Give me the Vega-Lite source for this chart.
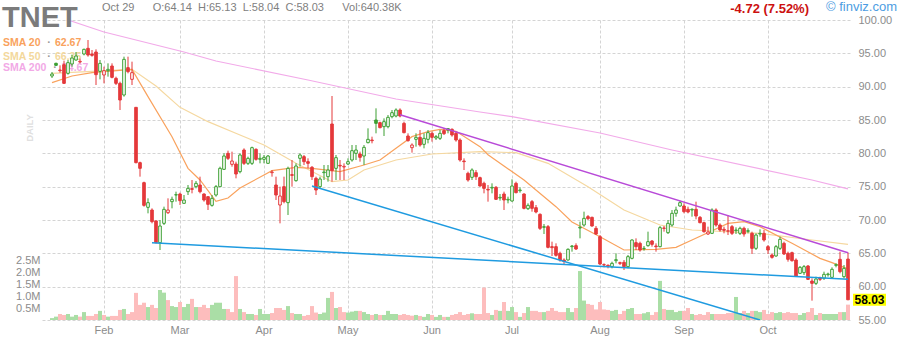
{
"$schema": "https://vega.github.io/schema/vega-lite/v6.json",
"width": 808, "height": 300,
"autosize": {"type": "none"},
"padding": {"left": 42, "top": 20, "right": 50, "bottom": 20},
"background": "white",
"config": {"view": {"stroke": null}, "axis": {"labelFont": "Liberation Sans", "labelColor": "#8c8c8c", "labelFontSize": 11, "gridColor": "#d4d4d4", "gridDash": [3, 2], "gridWidth": 1, "domain": false, "ticks": false, "labelOverlap": false, "labelFlush": false}, "axisRight": {"labelOverlap": false, "labelBound": false, "tickCount": 10, "format": ".2f", "labelPadding": 8, "grid": true}, "text": {"font": "Liberation Sans"}},
"datasets": {
"p": [
{"d":"2025-01-14","o":91.6,"h":92.2,"l":91.3,"c":91.9,"v":80000},
{"d":"2025-01-15","o":93.5,"h":93.6,"l":93.1,"c":93.2,"v":140000},
{"d":"2025-01-16","o":92.5,"h":93.2,"l":92.1,"c":92.4,"v":250000},
{"d":"2025-01-17","o":93.3,"h":93.9,"l":90.4,"c":90.5,"v":210000},
{"d":"2025-01-21","o":92.0,"h":94.0,"l":91.8,"c":93.6,"v":250000},
{"d":"2025-01-22","o":93.4,"h":94.8,"l":93.0,"c":94.3,"v":140000},
{"d":"2025-01-23","o":94.0,"h":95.2,"l":93.9,"c":94.6,"v":210000},
{"d":"2025-01-24","o":93.7,"h":94.2,"l":93.5,"c":93.8,"v":140000},
{"d":"2025-01-27","o":94.9,"h":95.7,"l":94.7,"c":95.6,"v":330000},
{"d":"2025-01-28","o":95.75,"h":97.0,"l":94.5,"c":94.75,"v":170000},
{"d":"2025-01-29","o":94.9,"h":95.5,"l":94.5,"c":94.7,"v":170000},
{"d":"2025-01-30","o":95.2,"h":95.6,"l":90.25,"c":91.8,"v":250000},
{"d":"2025-01-31","o":92.3,"h":94.0,"l":91.1,"c":93.5,"v":380000},
{"d":"2025-02-03","o":91.75,"h":93.0,"l":90.5,"c":92.4,"v":210000},
{"d":"2025-02-04","o":92.4,"h":93.5,"l":91.5,"c":92.6,"v":140000},
{"d":"2025-02-05","o":93.1,"h":93.5,"l":91.25,"c":91.4,"v":170000},
{"d":"2025-02-06","o":91.25,"h":91.5,"l":90.25,"c":90.5,"v":170000},
{"d":"2025-02-07","o":90.5,"h":90.75,"l":86.5,"c":88.0,"v":420000},
{"d":"2025-02-10","o":88.75,"h":94.5,"l":88.5,"c":94.1,"v":460000},
{"d":"2025-02-11","o":92.85,"h":94.5,"l":92.0,"c":92.25,"v":250000},
{"d":"2025-02-12","o":91.1,"h":93.75,"l":90.25,"c":92.1,"v":330000},
{"d":"2025-02-13","o":86.9,"h":86.9,"l":78.5,"c":78.6,"v":1130000},
{"d":"2025-02-14","o":78.6,"h":78.75,"l":76.5,"c":77.75,"v":630000},
{"d":"2025-02-18","o":75.6,"h":75.75,"l":72.0,"c":72.2,"v":720000},
{"d":"2025-02-19","o":71.9,"h":73.25,"l":71.0,"c":72.6,"v":540000},
{"d":"2025-02-20","o":71.5,"h":71.75,"l":69.5,"c":69.75,"v":630000},
{"d":"2025-02-21","o":69.85,"h":70.0,"l":66.5,"c":66.6,"v":500000},
{"d":"2025-02-24","o":66.6,"h":70.0,"l":65.5,"c":69.1,"v":1250000},
{"d":"2025-02-25","o":69.5,"h":72.0,"l":69.25,"c":71.6,"v":1140000},
{"d":"2025-02-26","o":71.1,"h":73.25,"l":70.9,"c":71.5,"v":830000},
{"d":"2025-02-27","o":72.75,"h":73.5,"l":71.75,"c":73.1,"v":580000},
{"d":"2025-02-28","o":73.75,"h":74.25,"l":72.75,"c":73.8,"v":540000},
{"d":"2025-03-03","o":73.9,"h":74.1,"l":72.25,"c":72.9,"v":750000},
{"d":"2025-03-04","o":72.5,"h":73.75,"l":72.5,"c":73.0,"v":540000},
{"d":"2025-03-05","o":74.25,"h":75.25,"l":73.75,"c":74.75,"v":670000},
{"d":"2025-03-06","o":74.7,"h":76.0,"l":74.0,"c":74.6,"v":880000},
{"d":"2025-03-07","o":75.0,"h":75.85,"l":74.75,"c":75.5,"v":540000},
{"d":"2025-03-10","o":75.25,"h":76.5,"l":74.0,"c":74.25,"v":540000},
{"d":"2025-03-11","o":73.9,"h":74.0,"l":72.75,"c":73.0,"v":630000},
{"d":"2025-03-12","o":73.5,"h":73.5,"l":71.5,"c":72.35,"v":500000},
{"d":"2025-03-13","o":72.2,"h":73.75,"l":72.0,"c":73.25,"v":630000},
{"d":"2025-03-14","o":73.75,"h":75.25,"l":73.5,"c":75.0,"v":720000},
{"d":"2025-03-17","o":75.0,"h":78.0,"l":75.0,"c":77.75,"v":720000},
{"d":"2025-03-18","o":77.6,"h":80.0,"l":77.5,"c":79.6,"v":460000},
{"d":"2025-03-19","o":80.0,"h":80.4,"l":79.0,"c":79.25,"v":460000},
{"d":"2025-03-20","o":78.35,"h":80.25,"l":78.0,"c":78.85,"v":330000},
{"d":"2025-03-21","o":78.4,"h":78.75,"l":76.25,"c":76.9,"v":1830000},
{"d":"2025-03-24","o":77.25,"h":80.0,"l":77.0,"c":79.75,"v":460000},
{"d":"2025-03-25","o":80.5,"h":80.75,"l":78.25,"c":78.5,"v":330000},
{"d":"2025-03-26","o":78.5,"h":79.5,"l":78.25,"c":79.25,"v":250000},
{"d":"2025-03-27","o":78.5,"h":81.0,"l":78.25,"c":80.85,"v":250000},
{"d":"2025-03-28","o":80.6,"h":80.75,"l":78.9,"c":79.1,"v":210000},
{"d":"2025-03-31","o":79.1,"h":80.0,"l":78.5,"c":79.25,"v":460000},
{"d":"2025-04-01","o":79.1,"h":79.75,"l":78.5,"c":79.4,"v":250000},
{"d":"2025-04-02","o":78.5,"h":79.75,"l":78.5,"c":79.6,"v":250000},
{"d":"2025-04-03","o":77.1,"h":77.5,"l":76.5,"c":77.2,"v":290000},
{"d":"2025-04-04","o":75.25,"h":76.5,"l":73.0,"c":73.75,"v":500000},
{"d":"2025-04-07","o":72.25,"h":75.0,"l":69.5,"c":73.6,"v":500000},
{"d":"2025-04-08","o":75.0,"h":76.5,"l":72.5,"c":72.75,"v":420000},
{"d":"2025-04-09","o":72.6,"h":78.0,"l":70.75,"c":77.75,"v":580000},
{"d":"2025-04-10","o":76.8,"h":79.0,"l":75.0,"c":76.7,"v":290000},
{"d":"2025-04-11","o":75.9,"h":78.5,"l":75.75,"c":78.1,"v":250000},
{"d":"2025-04-14","o":79.25,"h":80.0,"l":78.0,"c":79.75,"v":250000},
{"d":"2025-04-15","o":79.5,"h":79.75,"l":78.25,"c":78.75,"v":170000},
{"d":"2025-04-16","o":78.75,"h":79.25,"l":77.75,"c":78.5,"v":210000},
{"d":"2025-04-17","o":77.9,"h":78.1,"l":76.0,"c":76.5,"v":580000},
{"d":"2025-04-21","o":76.25,"h":76.5,"l":73.75,"c":74.5,"v":310000},
{"d":"2025-04-22","o":75.0,"h":76.5,"l":74.75,"c":76.15,"v":250000},
{"d":"2025-04-23","o":77.1,"h":78.25,"l":76.0,"c":77.2,"v":310000},
{"d":"2025-04-24","o":76.5,"h":78.25,"l":75.75,"c":77.5,"v":920000},
{"d":"2025-04-25","o":84.4,"h":88.6,"l":75.75,"c":77.4,"v":1170000},
{"d":"2025-04-28","o":77.75,"h":79.75,"l":76.0,"c":79.35,"v":500000},
{"d":"2025-04-29","o":78.2,"h":79.0,"l":76.0,"c":78.1,"v":540000},
{"d":"2025-04-30","o":77.95,"h":78.5,"l":76.0,"c":78.05,"v":330000},
{"d":"2025-05-01","o":78.4,"h":79.25,"l":78.25,"c":78.75,"v":310000},
{"d":"2025-05-02","o":79.0,"h":81.25,"l":78.75,"c":80.4,"v":350000},
{"d":"2025-05-05","o":80.0,"h":81.25,"l":79.0,"c":80.5,"v":380000},
{"d":"2025-05-06","o":79.9,"h":80.25,"l":78.75,"c":79.4,"v":380000},
{"d":"2025-05-07","o":79.6,"h":81.25,"l":78.25,"c":80.9,"v":330000},
{"d":"2025-05-08","o":81.6,"h":83.75,"l":81.5,"c":82.1,"v":250000},
{"d":"2025-05-09","o":82.0,"h":82.5,"l":81.5,"c":81.9,"v":210000},
{"d":"2025-05-12","o":85.0,"h":86.75,"l":83.0,"c":84.5,"v":250000},
{"d":"2025-05-13","o":84.6,"h":84.75,"l":83.75,"c":83.85,"v":210000},
{"d":"2025-05-14","o":84.0,"h":85.25,"l":82.6,"c":84.75,"v":210000},
{"d":"2025-05-15","o":84.0,"h":85.75,"l":83.75,"c":85.4,"v":380000},
{"d":"2025-05-16","o":85.5,"h":86.5,"l":85.25,"c":86.1,"v":250000},
{"d":"2025-05-19","o":85.6,"h":86.75,"l":85.4,"c":86.5,"v":250000},
{"d":"2025-05-20","o":86.5,"h":86.75,"l":85.4,"c":85.6,"v":210000},
{"d":"2025-05-21","o":84.5,"h":84.75,"l":83.0,"c":83.1,"v":250000},
{"d":"2025-05-22","o":82.6,"h":83.0,"l":81.75,"c":81.9,"v":210000},
{"d":"2025-05-23","o":80.85,"h":81.5,"l":80.1,"c":81.25,"v":180000},
{"d":"2025-05-27","o":82.1,"h":83.0,"l":81.0,"c":82.4,"v":210000},
{"d":"2025-05-28","o":82.4,"h":83.5,"l":81.0,"c":81.25,"v":170000},
{"d":"2025-05-29","o":81.35,"h":83.0,"l":80.75,"c":82.25,"v":130000},
{"d":"2025-05-30","o":82.1,"h":83.5,"l":81.5,"c":83.1,"v":250000},
{"d":"2025-06-02","o":83.0,"h":83.25,"l":81.75,"c":82.4,"v":210000},
{"d":"2025-06-03","o":82.3,"h":82.75,"l":82.0,"c":82.5,"v":130000},
{"d":"2025-06-04","o":82.25,"h":83.5,"l":82.0,"c":83.0,"v":210000},
{"d":"2025-06-05","o":83.4,"h":83.75,"l":82.75,"c":82.95,"v":130000},
{"d":"2025-06-06","o":83.7,"h":83.75,"l":83.0,"c":83.5,"v":130000},
{"d":"2025-06-09","o":83.6,"h":83.75,"l":82.5,"c":82.75,"v":210000},
{"d":"2025-06-10","o":83.0,"h":83.25,"l":81.75,"c":82.0,"v":250000},
{"d":"2025-06-11","o":82.0,"h":82.25,"l":78.75,"c":79.0,"v":330000},
{"d":"2025-06-12","o":78.85,"h":79.25,"l":77.5,"c":78.75,"v":210000},
{"d":"2025-06-13","o":77.0,"h":77.25,"l":75.75,"c":76.0,"v":250000},
{"d":"2025-06-16","o":76.4,"h":77.75,"l":76.0,"c":77.5,"v":280000},
{"d":"2025-06-17","o":77.1,"h":77.5,"l":76.0,"c":76.5,"v":250000},
{"d":"2025-06-18","o":76.35,"h":76.5,"l":75.0,"c":75.1,"v":250000},
{"d":"2025-06-20","o":75.5,"h":75.75,"l":74.0,"c":74.75,"v":1350000},
{"d":"2025-06-23","o":74.6,"h":75.25,"l":72.75,"c":74.5,"v":290000},
{"d":"2025-06-24","o":74.8,"h":75.5,"l":74.0,"c":74.9,"v":210000},
{"d":"2025-06-25","o":74.9,"h":75.1,"l":73.0,"c":73.1,"v":420000},
{"d":"2025-06-26","o":73.3,"h":73.9,"l":72.9,"c":73.4,"v":380000},
{"d":"2025-06-27","o":73.9,"h":74.25,"l":71.5,"c":73.0,"v":750000},
{"d":"2025-06-30","o":73.0,"h":73.5,"l":72.5,"c":73.1,"v":380000},
{"d":"2025-07-01","o":72.85,"h":76.1,"l":72.75,"c":75.1,"v":540000},
{"d":"2025-07-02","o":75.5,"h":75.75,"l":74.0,"c":74.1,"v":330000},
{"d":"2025-07-03","o":74.4,"h":74.9,"l":74.1,"c":74.5,"v":130000},
{"d":"2025-07-07","o":73.9,"h":74.0,"l":71.6,"c":71.75,"v":290000},
{"d":"2025-07-08","o":71.7,"h":72.5,"l":71.5,"c":72.2,"v":540000},
{"d":"2025-07-09","o":72.75,"h":73.0,"l":71.25,"c":71.75,"v":380000},
{"d":"2025-07-10","o":71.85,"h":72.25,"l":71.0,"c":71.2,"v":380000},
{"d":"2025-07-11","o":70.85,"h":71.0,"l":68.5,"c":68.75,"v":330000},
{"d":"2025-07-14","o":68.9,"h":69.4,"l":67.9,"c":69.0,"v":330000},
{"d":"2025-07-15","o":69.0,"h":69.25,"l":65.75,"c":65.9,"v":380000},
{"d":"2025-07-16","o":66.0,"h":66.75,"l":64.6,"c":65.85,"v":500000},
{"d":"2025-07-17","o":66.0,"h":66.5,"l":64.5,"c":64.7,"v":380000},
{"d":"2025-07-18","o":65.0,"h":65.25,"l":63.75,"c":64.0,"v":330000},
{"d":"2025-07-21","o":64.0,"h":64.25,"l":63.4,"c":63.8,"v":330000},
{"d":"2025-07-22","o":64.0,"h":65.75,"l":63.9,"c":65.6,"v":500000},
{"d":"2025-07-23","o":66.0,"h":66.25,"l":65.25,"c":66.1,"v":330000},
{"d":"2025-07-24","o":66.15,"h":66.5,"l":65.5,"c":65.65,"v":500000},
{"d":"2025-07-25","o":68.8,"h":69.75,"l":67.25,"c":68.9,"v":2040000},
{"d":"2025-07-28","o":69.25,"h":71.25,"l":69.0,"c":70.25,"v":810000},
{"d":"2025-07-29","o":70.5,"h":70.75,"l":70.0,"c":70.2,"v":670000},
{"d":"2025-07-30","o":70.4,"h":70.5,"l":69.0,"c":69.1,"v":630000},
{"d":"2025-07-31","o":68.75,"h":69.1,"l":67.75,"c":67.9,"v":440000},
{"d":"2025-08-01","o":67.5,"h":67.75,"l":63.25,"c":63.4,"v":750000},
{"d":"2025-08-04","o":63.3,"h":63.5,"l":62.9,"c":63.25,"v":440000},
{"d":"2025-08-05","o":63.2,"h":63.35,"l":62.75,"c":63.1,"v":420000},
{"d":"2025-08-06","o":63.0,"h":63.75,"l":62.75,"c":63.5,"v":380000},
{"d":"2025-08-07","o":63.9,"h":65.0,"l":63.5,"c":64.05,"v":420000},
{"d":"2025-08-08","o":63.6,"h":63.75,"l":63.25,"c":63.5,"v":250000},
{"d":"2025-08-11","o":63.65,"h":64.0,"l":62.5,"c":63.0,"v":380000},
{"d":"2025-08-12","o":63.0,"h":64.75,"l":62.75,"c":64.5,"v":460000},
{"d":"2025-08-13","o":64.25,"h":67.1,"l":64.1,"c":67.0,"v":500000},
{"d":"2025-08-14","o":66.6,"h":67.25,"l":65.5,"c":66.0,"v":250000},
{"d":"2025-08-15","o":66.5,"h":66.75,"l":65.25,"c":65.5,"v":250000},
{"d":"2025-08-18","o":65.7,"h":66.1,"l":65.4,"c":65.75,"v":280000},
{"d":"2025-08-19","o":66.15,"h":68.25,"l":66.0,"c":66.75,"v":330000},
{"d":"2025-08-20","o":66.85,"h":67.0,"l":66.0,"c":66.35,"v":210000},
{"d":"2025-08-21","o":66.1,"h":66.5,"l":65.25,"c":66.0,"v":330000},
{"d":"2025-08-22","o":66.0,"h":69.1,"l":65.9,"c":68.85,"v":1630000},
{"d":"2025-08-25","o":68.8,"h":69.1,"l":68.25,"c":68.75,"v":460000},
{"d":"2025-08-26","o":68.1,"h":70.0,"l":67.9,"c":69.5,"v":420000},
{"d":"2025-08-27","o":69.25,"h":71.5,"l":69.0,"c":71.0,"v":420000},
{"d":"2025-08-28","o":71.0,"h":72.0,"l":70.5,"c":71.5,"v":330000},
{"d":"2025-08-29","o":72.1,"h":72.9,"l":72.0,"c":72.6,"v":380000},
{"d":"2025-09-02","o":72.1,"h":72.5,"l":71.0,"c":71.25,"v":380000},
{"d":"2025-09-03","o":71.6,"h":72.0,"l":71.0,"c":71.2,"v":500000},
{"d":"2025-09-04","o":71.5,"h":71.75,"l":70.5,"c":71.6,"v":250000},
{"d":"2025-09-05","o":71.6,"h":72.75,"l":70.1,"c":70.6,"v":210000},
{"d":"2025-09-08","o":70.4,"h":70.6,"l":69.5,"c":69.6,"v":250000},
{"d":"2025-09-09","o":69.6,"h":69.75,"l":68.1,"c":68.25,"v":210000},
{"d":"2025-09-10","o":67.9,"h":69.0,"l":67.75,"c":68.2,"v":330000},
{"d":"2025-09-11","o":68.0,"h":71.75,"l":67.9,"c":71.5,"v":250000},
{"d":"2025-09-12","o":71.5,"h":71.75,"l":69.0,"c":69.25,"v":250000},
{"d":"2025-09-15","o":69.25,"h":69.5,"l":68.25,"c":68.5,"v":250000},
{"d":"2025-09-16","o":68.6,"h":69.0,"l":68.0,"c":68.45,"v":250000},
{"d":"2025-09-17","o":68.3,"h":70.75,"l":67.75,"c":68.4,"v":290000},
{"d":"2025-09-18","o":69.0,"h":69.25,"l":67.75,"c":68.0,"v":290000},
{"d":"2025-09-19","o":68.4,"h":68.9,"l":67.9,"c":68.5,"v":960000},
{"d":"2025-09-22","o":68.0,"h":69.0,"l":67.75,"c":68.75,"v":290000},
{"d":"2025-09-23","o":68.75,"h":69.0,"l":67.5,"c":67.9,"v":380000},
{"d":"2025-09-24","o":68.3,"h":68.75,"l":68.0,"c":68.4,"v":290000},
{"d":"2025-09-25","o":68.0,"h":68.25,"l":64.9,"c":65.75,"v":380000},
{"d":"2025-09-26","o":65.75,"h":68.0,"l":65.5,"c":67.75,"v":380000},
{"d":"2025-09-29","o":67.9,"h":68.6,"l":67.5,"c":68.0,"v":330000},
{"d":"2025-09-30","o":68.0,"h":68.5,"l":66.75,"c":67.0,"v":420000},
{"d":"2025-10-01","o":66.0,"h":66.25,"l":64.9,"c":65.5,"v":250000},
{"d":"2025-10-02","o":64.75,"h":65.0,"l":64.2,"c":64.4,"v":330000},
{"d":"2025-10-03","o":64.6,"h":66.25,"l":64.5,"c":66.0,"v":290000},
{"d":"2025-10-06","o":65.75,"h":67.5,"l":65.5,"c":67.1,"v":330000},
{"d":"2025-10-07","o":66.5,"h":66.75,"l":64.75,"c":64.9,"v":290000},
{"d":"2025-10-08","o":65.0,"h":65.25,"l":63.75,"c":64.1,"v":330000},
{"d":"2025-10-09","o":65.1,"h":65.25,"l":63.75,"c":63.9,"v":290000},
{"d":"2025-10-10","o":64.0,"h":64.25,"l":61.5,"c":61.6,"v":290000},
{"d":"2025-10-13","o":62.0,"h":63.1,"l":61.9,"c":62.9,"v":210000},
{"d":"2025-10-14","o":62.1,"h":63.25,"l":61.75,"c":63.0,"v":290000},
{"d":"2025-10-15","o":63.1,"h":63.25,"l":61.0,"c":61.1,"v":330000},
{"d":"2025-10-16","o":60.85,"h":61.25,"l":57.9,"c":60.5,"v":500000},
{"d":"2025-10-17","o":60.5,"h":61.5,"l":60.25,"c":61.15,"v":210000},
{"d":"2025-10-20","o":61.3,"h":61.5,"l":60.85,"c":61.1,"v":290000},
{"d":"2025-10-21","o":61.25,"h":62.25,"l":61.0,"c":61.85,"v":250000},
{"d":"2025-10-22","o":61.8,"h":62.1,"l":61.5,"c":61.9,"v":250000},
{"d":"2025-10-23","o":61.4,"h":62.9,"l":61.25,"c":62.6,"v":250000},
{"d":"2025-10-24","o":63.2,"h":63.5,"l":62.9,"c":63.3,"v":250000},
{"d":"2025-10-27","o":64.1,"h":65.25,"l":62.0,"c":62.25,"v":330000},
{"d":"2025-10-28","o":61.5,"h":63.25,"l":61.25,"c":62.75,"v":330000},
{"d":"2025-10-29","o":64.14,"h":65.13,"l":58.03,"c":58.03,"v":640380}
],
"ln": [
{"k":"s20","d":"2025-01-14","p":90.6},{"k":"s20","d":"2025-01-22","p":91.6},{"k":"s20","d":"2025-01-29","p":92.1},{"k":"s20","d":"2025-02-12","p":92.6},{"k":"s20","d":"2025-02-19","p":88.5},{"k":"s20","d":"2025-02-27","p":82.5},{"k":"s20","d":"2025-03-05","p":77.75},{"k":"s20","d":"2025-03-10","p":76.0},{"k":"s20","d":"2025-03-14","p":72.8},{"k":"s20","d":"2025-03-19","p":73.3},{"k":"s20","d":"2025-03-24","p":74.8},{"k":"s20","d":"2025-04-01","p":76.75},{"k":"s20","d":"2025-04-03","p":77.4},{"k":"s20","d":"2025-04-11","p":77.9},{"k":"s20","d":"2025-04-17","p":77.75},{"k":"s20","d":"2025-04-29","p":77.25},{"k":"s20","d":"2025-05-07","p":78.25},{"k":"s20","d":"2025-05-13","p":79.0},{"k":"s20","d":"2025-05-19","p":80.75},{"k":"s20","d":"2025-05-23","p":82.5},{"k":"s20","d":"2025-05-30","p":83.25},{"k":"s20","d":"2025-06-04","p":83.6},{"k":"s20","d":"2025-06-10","p":83.3},{"k":"s20","d":"2025-06-18","p":81.0},{"k":"s20","d":"2025-06-23","p":79.8},{"k":"s20","d":"2025-07-07","p":76.0},{"k":"s20","d":"2025-07-17","p":72.0},{"k":"s20","d":"2025-07-23","p":69.7},{"k":"s20","d":"2025-08-01","p":67.5},{"k":"s20","d":"2025-08-11","p":65.5},{"k":"s20","d":"2025-08-21","p":65.6},{"k":"s20","d":"2025-08-28","p":65.9},{"k":"s20","d":"2025-09-04","p":67.0},{"k":"s20","d":"2025-09-17","p":69.5},{"k":"s20","d":"2025-09-23","p":69.75},{"k":"s20","d":"2025-09-29","p":69.0},{"k":"s20","d":"2025-10-09","p":66.5},{"k":"s20","d":"2025-10-20","p":64.25},{"k":"s20","d":"2025-10-23","p":63.6},{"k":"s20","d":"2025-10-29","p":62.67},
{"k":"s50","d":"2025-01-14","p":92.0},{"k":"s50","d":"2025-01-29","p":92.3},{"k":"s50","d":"2025-02-12","p":92.6},{"k":"s50","d":"2025-02-21","p":90.1},{"k":"s50","d":"2025-03-03","p":86.9},{"k":"s50","d":"2025-03-12","p":84.75},{"k":"s50","d":"2025-03-24","p":82.75},{"k":"s50","d":"2025-04-01","p":81.25},{"k":"s50","d":"2025-04-11","p":78.5},{"k":"s50","d":"2025-04-25","p":75.75},{"k":"s50","d":"2025-05-01","p":76.0},{"k":"s50","d":"2025-05-07","p":77.5},{"k":"s50","d":"2025-05-19","p":79.0},{"k":"s50","d":"2025-06-02","p":79.9},{"k":"s50","d":"2025-06-18","p":80.25},{"k":"s50","d":"2025-07-02","p":80.1},{"k":"s50","d":"2025-07-15","p":78.5},{"k":"s50","d":"2025-07-29","p":75.0},{"k":"s50","d":"2025-08-11","p":71.5},{"k":"s50","d":"2025-08-22","p":69.25},{"k":"s50","d":"2025-09-04","p":68.5},{"k":"s50","d":"2025-09-29","p":68.0},{"k":"s50","d":"2025-10-16","p":67.0},{"k":"s50","d":"2025-10-29","p":66.35},
{"k":"s200","d":"2025-01-14","p":100.6},{"k":"s200","d":"2025-01-21","p":100.0},{"k":"s200","d":"2025-02-03","p":98.2},{"k":"s200","d":"2025-03-04","p":95.2},{"k":"s200","d":"2025-03-14","p":93.85},{"k":"s200","d":"2025-04-16","p":91.0},{"k":"s200","d":"2025-05-19","p":88.15},{"k":"s200","d":"2025-06-18","p":86.2},{"k":"s200","d":"2025-07-01","p":85.5},{"k":"s200","d":"2025-08-01","p":83.05},{"k":"s200","d":"2025-08-27","p":80.5},{"k":"s200","d":"2025-10-16","p":76.0},{"k":"s200","d":"2025-10-29","p":74.67},
{"k":"tp","d":"2025-05-20","p":85.8},{"k":"tp","d":"2025-10-29","p":65.1},
{"k":"tc1","d":"2025-02-20","p":66.6},{"k":"tc1","d":"2025-10-29","p":61.1},
{"k":"tc2","d":"2025-04-17","p":75.1},{"k":"tc2","d":"2025-09-29","p":55.0}
]
},
"data": {"name": "p"},
"transform": [{"window": [{"op": "lag", "field": "c", "as": "pc"}], "sort": [{"field": "d", "order": "ascending"}]}],
"encoding": {
 "x": {"field": "d", "type": "ordinal", "title": null,
  "scale": {"type": "band", "paddingInner": 0, "paddingOuter": 1, "align": 1},
  "axis": {"values": ["2025-02-03","2025-03-03","2025-04-01","2025-05-01","2025-06-02","2025-07-01","2025-08-01","2025-09-02","2025-10-01"],
   "labelExpr": "utcFormat(toDate(datum.value), '%b')", "grid": true, "bandPosition": 0.5, "labelAngle": 0, "labelPadding": 4, "labelFlush": false, "labelOverlap": false, "labelBound": false, "title": null}}
},
"layer": [
 {"mark": {"type": "bar", "opacity": 1},
  "encoding": {
   "y": {"field": "v", "type": "quantitative", "title": null, "scale": {"domain": [0, 12500000], "nice": false, "zero": true},
    "axis": {"orient": "left", "values": [500000, 1000000, 1500000, 2000000, 2500000], "labelExpr": "format(datum.value / 1000000, '.1f') + 'M'", "grid": false, "labelPadding": 2, "labelFlush": false, "labelOverlap": false, "title": null}},
   "color": {"condition": {"test": "datum.pc == null || datum.c >= datum.pc", "value": "#aadea6"}, "value": "#fdbdbd"}
  }},
 {"layer": [
  {"data": {"values": [{}]}, "mark": {"type": "text", "align": "left", "baseline": "middle", "dx": -49, "font": "Liberation Sans", "fontSize": 10.5, "fontWeight": "bold", "color": "#f9a25d"},
   "encoding": {"x": {"datum": "2025-01-14", "type": "ordinal"}, "y": {"datum": 96.5, "type": "quantitative", "title": null, "scale": {"domain": [55, 100], "nice": false, "zero": false}}, "text": {"value": "SMA 20"}}},
  {"data": {"values": [{}]}, "mark": {"type": "text", "align": "left", "baseline": "middle", "dx": 3, "font": "Liberation Sans", "fontSize": 10.5, "fontWeight": "bold", "color": "#f9a25d"},
   "encoding": {"x": {"datum": "2025-01-14", "type": "ordinal"}, "y": {"datum": 96.5, "type": "quantitative", "title": null, "scale": {"domain": [55, 100], "nice": false, "zero": false}}, "text": {"value": "62.67"}}},
  {"data": {"values": [{}]}, "mark": {"type": "text", "align": "left", "baseline": "middle", "dx": -49, "font": "Liberation Sans", "fontSize": 10.5, "fontWeight": "bold", "color": "#f3d89c"},
   "encoding": {"x": {"datum": "2025-01-14", "type": "ordinal"}, "y": {"datum": 94.5, "type": "quantitative", "title": null, "scale": {"domain": [55, 100], "nice": false, "zero": false}}, "text": {"value": "SMA 50"}}},
  {"data": {"values": [{}]}, "mark": {"type": "text", "align": "left", "baseline": "middle", "dx": 3, "font": "Liberation Sans", "fontSize": 10.5, "fontWeight": "bold", "color": "#f3d89c"},
   "encoding": {"x": {"datum": "2025-01-14", "type": "ordinal"}, "y": {"datum": 94.5, "type": "quantitative", "title": null, "scale": {"domain": [55, 100], "nice": false, "zero": false}}, "text": {"value": "66.35"}}},
  {"data": {"values": [{}]}, "mark": {"type": "text", "align": "left", "baseline": "middle", "dx": -49, "font": "Liberation Sans", "fontSize": 10.5, "fontWeight": "bold", "color": "#f2a9e6"},
   "encoding": {"x": {"datum": "2025-01-14", "type": "ordinal"}, "y": {"datum": 92.75, "type": "quantitative", "title": null, "scale": {"domain": [55, 100], "nice": false, "zero": false}}, "text": {"value": "SMA 200"}}},
  {"data": {"values": [{}]}, "mark": {"type": "text", "align": "left", "baseline": "middle", "dx": 10, "font": "Liberation Sans", "fontSize": 10.5, "fontWeight": "bold", "color": "#f2a9e6"},
   "encoding": {"x": {"datum": "2025-01-14", "type": "ordinal"}, "y": {"datum": 92.75, "type": "quantitative", "title": null, "scale": {"domain": [55, 100], "nice": false, "zero": false}}, "text": {"value": "74.67"}}},
  {"data": {"values": [{}]}, "mark": {"type": "text", "align": "center", "baseline": "middle", "dx": -3, "font": "Liberation Sans", "fontSize": 11, "fontWeight": "bold", "color": "#9a9a9a"},
   "encoding": {"x": {"datum": "2025-01-14", "type": "ordinal"}, "y": {"datum": 96.5, "type": "quantitative", "title": null, "scale": {"domain": [55, 100], "nice": false, "zero": false}}, "text": {"value": "·"}}},
  {"data": {"values": [{}]}, "mark": {"type": "text", "align": "center", "baseline": "middle", "dx": -3, "font": "Liberation Sans", "fontSize": 11, "fontWeight": "bold", "color": "#9a9a9a"},
   "encoding": {"x": {"datum": "2025-01-14", "type": "ordinal"}, "y": {"datum": 94.5, "type": "quantitative", "title": null, "scale": {"domain": [55, 100], "nice": false, "zero": false}}, "text": {"value": "·"}}},
  {"data": {"values": [{}]}, "mark": {"type": "text", "align": "center", "baseline": "middle", "dx": 3, "font": "Liberation Sans", "fontSize": 11, "fontWeight": "bold", "color": "#9a9a9a"},
   "encoding": {"x": {"datum": "2025-01-14", "type": "ordinal"}, "y": {"datum": 92.75, "type": "quantitative", "title": null, "scale": {"domain": [55, 100], "nice": false, "zero": false}}, "text": {"value": "·"}}},
  {"data": {"name": "ln"}, "transform": [{"filter": "datum.k == 's200'"}], "mark": {"type": "line", "color": "#f2aae9", "strokeWidth": 1.2, "clip": true},
   "encoding": {"y": {"field": "p", "type": "quantitative", "title": null, "scale": {"domain": [55, 100], "nice": false, "zero": false}}}},
  {"data": {"name": "ln"}, "transform": [{"filter": "datum.k == 's50'"}], "mark": {"type": "line", "color": "#f5d8a0", "strokeWidth": 1.2, "clip": true},
   "encoding": {"y": {"field": "p", "type": "quantitative", "title": null, "scale": {"domain": [55, 100], "nice": false, "zero": false}}}},
  {"data": {"name": "ln"}, "transform": [{"filter": "datum.k == 's20'"}], "mark": {"type": "line", "color": "#f9a25d", "strokeWidth": 1.2, "clip": true},
   "encoding": {"y": {"field": "p", "type": "quantitative", "title": null, "scale": {"domain": [55, 100], "nice": false, "zero": false}}}},
  {"mark": {"type": "rule", "strokeWidth": 1},
   "encoding": {
    "y": {"field": "l", "type": "quantitative", "title": null, "scale": {"domain": [55, 100], "nice": false, "zero": false},
     "axis": {"orient": "right", "values": [55, 60, 65, 70, 75, 80, 85, 90, 95, 100], "tickCount": 10, "format": ".2f", "grid": true, "labelPadding": 8, "labelFlush": false, "labelOverlap": false, "labelBound": false, "title": null}},
    "y2": {"field": "h"},
    "color": {"condition": {"test": "datum.pc == null || datum.c >= datum.pc", "value": "#3c9f32"}, "value": "#e4393b"}
   }},
  {"mark": {"type": "bar", "size": 2.6, "strokeWidth": 1, "opacity": 1},
   "encoding": {
    "y": {"field": "o", "type": "quantitative", "title": null, "scale": {"domain": [55, 100], "nice": false, "zero": false}},
    "y2": {"field": "c"},
    "fill": {"condition": [{"test": "datum.c > datum.o", "value": "#ffffff"}, {"test": "datum.pc == null || datum.c >= datum.pc", "value": "#3c9f32"}], "value": "#e4393b"},
    "stroke": {"condition": {"test": "datum.pc == null || datum.c >= datum.pc", "value": "#3c9f32"}, "value": "#e4393b"}
   }},
  {"data": {"name": "ln"}, "transform": [{"filter": "datum.k == 'tp'"}], "mark": {"type": "line", "color": "#b84ad8", "strokeWidth": 1.5, "clip": true},
   "encoding": {"y": {"field": "p", "type": "quantitative", "title": null, "scale": {"domain": [55, 100], "nice": false, "zero": false}}}},
  {"data": {"name": "ln"}, "transform": [{"filter": "datum.k == 'tc1'"}], "mark": {"type": "line", "color": "#1f9be0", "strokeWidth": 1.5, "clip": true},
   "encoding": {"y": {"field": "p", "type": "quantitative", "title": null, "scale": {"domain": [55, 100], "nice": false, "zero": false}}}},
  {"data": {"name": "ln"}, "transform": [{"filter": "datum.k == 'tc2'"}], "mark": {"type": "line", "color": "#1f9be0", "strokeWidth": 1.5, "clip": true},
   "encoding": {"y": {"field": "p", "type": "quantitative", "title": null, "scale": {"domain": [55, 100], "nice": false, "zero": false}}}},
  {"data": {"values": [{}]}, "mark": {"type": "text", "align": "left", "baseline": "alphabetic", "dx": -50, "font": "Liberation Sans", "fontSize": 29, "fontWeight": "bold", "color": "#7b7b7b"},
   "encoding": {"x": {"datum": "2025-01-14", "type": "ordinal"}, "y": {"datum": 99.0, "type": "quantitative", "title": null, "scale": {"domain": [55, 100], "nice": false, "zero": false}}, "text": {"value": "TNET"}}},
  {"data": {"values": [{}]}, "mark": {"type": "text", "align": "left", "baseline": "middle", "dx": -2, "font": "Liberation Sans", "fontSize": 11, "color": "#808080"},
   "encoding": {"x": {"datum": "2025-02-03", "type": "ordinal"}, "y": {"datum": 101.8, "type": "quantitative", "title": null, "scale": {"domain": [55, 100], "nice": false, "zero": false}}, "text": {"value": "Oct 29\u00a0\u00a0\u00a0\u00a0\u00a0\u00a0O:64.14\u00a0\u00a0H:65.13\u00a0\u00a0L:58.04\u00a0\u00a0C:58.03\u00a0\u00a0\u00a0\u00a0\u00a0\u00a0Vol:640.38K"}}},
  {"data": {"values": [{}]}, "mark": {"type": "text", "align": "right", "baseline": "middle", "dx": 1, "font": "Liberation Sans", "fontSize": 13, "fontWeight": "bold", "color": "#cc1010"},
   "encoding": {"x": {"datum": "2025-10-15", "type": "ordinal"}, "y": {"datum": 101.65, "type": "quantitative", "title": null, "scale": {"domain": [55, 100], "nice": false, "zero": false}}, "text": {"value": "-4.72 (7.52%)"}}},
  {"data": {"values": [{}]}, "mark": {"type": "text", "align": "right", "baseline": "middle", "dx": 49, "font": "Liberation Sans", "fontSize": 13, "color": "#4d9de2"},
   "encoding": {"x": {"datum": "2025-10-29", "type": "ordinal"}, "y": {"datum": 101.95, "type": "quantitative", "title": null, "scale": {"domain": [55, 100], "nice": false, "zero": false}}, "text": {"value": "© finviz.com"}}},
  {"data": {"values": [{}]}, "mark": {"type": "text", "align": "center", "baseline": "middle", "angle": 270, "dy": -22, "font": "Liberation Sans", "fontSize": 9.5, "fontWeight": "bold", "color": "#e0e0e0"},
   "encoding": {"x": {"datum": "2025-01-14", "type": "ordinal"}, "y": {"datum": 83.8, "type": "quantitative", "title": null, "scale": {"domain": [55, 100], "nice": false, "zero": false}}, "text": {"value": "DAILY"}}},
  {"data": {"values": [{}]}, "mark": {"type": "point", "shape": "M-1,-0.3636L1,-0.3636L1,0.3636L-1,0.3636Z", "size": 1089, "filled": true, "fill": "#ffff00", "opacity": 1, "strokeWidth": 0, "xOffset": 21.5},
   "encoding": {"x": {"datum": "2025-10-29", "type": "ordinal"}, "y": {"datum": 58.03, "type": "quantitative", "title": null, "scale": {"domain": [55, 100], "nice": false, "zero": false}}}},
  {"data": {"values": [{}]}, "mark": {"type": "text", "align": "center", "baseline": "middle", "dx": 21.5, "font": "Liberation Sans", "fontSize": 12, "fontWeight": "bold", "color": "#000000"},
   "encoding": {"x": {"datum": "2025-10-29", "type": "ordinal"}, "y": {"datum": 58.03, "type": "quantitative", "title": null, "scale": {"domain": [55, 100], "nice": false, "zero": false}}, "text": {"value": "58.03"}}}
 ]}
],
"resolve": {"scale": {"y": "independent"}, "axis": {"y": "independent"}}
}
